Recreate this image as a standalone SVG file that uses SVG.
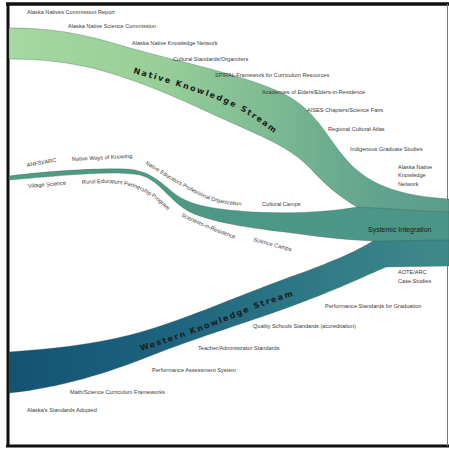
<svg xmlns="http://www.w3.org/2000/svg" width="449" height="449" viewBox="0 0 449 449">
<style>
.lb{font-family:"Liberation Sans",Arial,sans-serif;font-size:5.6px;fill:#3a3a3a}
.ne{font-size:5.5px}
.tt{font-family:"DejaVu Sans",Verdana,sans-serif;font-weight:bold;font-size:8px;fill:#1c1c1c}
.edge{stroke:#3c5a52;stroke-width:0.6;stroke-opacity:0.55}
</style>
<defs>
<linearGradient id="gNat" gradientUnits="userSpaceOnUse" x1="9" y1="0" x2="449" y2="0">
<stop offset="0" stop-color="#a6d8a0"/>
<stop offset="0.35" stop-color="#97ce98"/>
<stop offset="0.6" stop-color="#7cba92"/>
<stop offset="0.82" stop-color="#62a48e"/>
<stop offset="1" stop-color="#5a9d8c"/>
</linearGradient>
<linearGradient id="gMid" gradientUnits="userSpaceOnUse" x1="9" y1="0" x2="449" y2="0">
<stop offset="0" stop-color="#4e9c82"/>
<stop offset="1" stop-color="#4b9588"/>
</linearGradient>
<linearGradient id="gWes" gradientUnits="userSpaceOnUse" x1="9" y1="0" x2="449" y2="0">
<stop offset="0" stop-color="#145274"/>
<stop offset="0.35" stop-color="#1d627e"/>
<stop offset="0.7" stop-color="#2f7a86"/>
<stop offset="1" stop-color="#3e8a8a"/>
</linearGradient>
<path id="pNat" d="M133,73 C175,85 220,98 245,113 C258,121 268,128 284,141"/>
<path id="pWes" d="M141,351 C180,339 220,324 255,309 C270,303 285,298 300,294"/>
<path id="pRural" d="M82,184 C110,182 125,183 140,190 C155,197 166,207 176,222"/>
<path id="pNEPO" d="M145,164 C165,176 185,189 205,198 C220,204 235,206 262,206"/>
<path id="pSci" d="M181,216 C200,226 220,234 244,242"/>
<path id="pCamp" d="M253,241 L297,253"/>
</defs>
<rect x="0" y="0" width="449" height="449" fill="#ffffff"/>
<g id="frame" fill="none">
<line x1="6" y1="4" x2="449" y2="4" stroke="#111" stroke-width="3.5"/>
<line x1="8" y1="3" x2="8" y2="447" stroke="#111" stroke-width="3"/>
<line x1="6" y1="446" x2="449" y2="446" stroke="#111" stroke-width="3"/>
<line x1="447.5" y1="4" x2="447.5" y2="446" stroke="#777" stroke-width="1"/>
</g>
<g id="connectors">
<g id="native-stream">
<path class="edge" fill="url(#gNat)" d="M9,28 C60,28 90,36 130,48 C180,62 240,74 280,92 C310,106 320,125 340,152 C360,178 385,195 449,199 L449,215 C420,213 380,210 357,207 C340,197 325,185 310,168 C290,148 270,140 230,122 C190,104 150,84 100,70 C70,62 40,59 9,59 Z"/>
</g>
<g id="western-stream">
<path class="edge" fill="url(#gWes)" d="M9,352 C50,349 90,345 130,335 C180,322 230,299 290,277 C330,263 355,252 373,241 C390,240 420,238 449,238 L449,266 L386,267 C365,276 340,288 300,303 C255,320 195,338 150,356 C110,372 60,388 9,393 Z"/>
</g>
<g id="middle-stream">
<path class="edge" fill="url(#gMid)" d="M9,176 C40,172 90,168 125,169 C150,170 160,182 175,194 C190,205 210,209 253,212 C290,214 330,212 357,207 C380,208 420,211 449,212 L449,240 C420,240 390,241 373,241 C350,240 330,238 300,234 C260,229 215,224 190,212 C170,202 160,180 140,175 C110,170 60,176 9,180 Z"/>
</g>
</g>
<g id="titles">
<g id="native-title">
<text class="tt" letter-spacing="1.7"><textPath href="#pNat">Native</textPath></text>
<text class="tt" letter-spacing="1.7"><textPath href="#pNat" startOffset="43.6">Knowledge</textPath></text>
<text class="tt" letter-spacing="1.7"><textPath href="#pNat" startOffset="113.2">Stream</textPath></text>
</g>
<g id="western-title">
<text class="tt" letter-spacing="1.6"><textPath href="#pWes">Western</textPath></text>
<text class="tt" letter-spacing="1.6"><textPath href="#pWes" startOffset="52.5">Knowledge</textPath></text>
<text class="tt" letter-spacing="1.6"><textPath href="#pWes" startOffset="121.2">Stream</textPath></text>
</g>
<g id="systemic"><text x="368" y="232" font-family="Liberation Sans,Arial,sans-serif" font-size="7" fill="#1a1a1a">Systemic Integration</text></g>
</g>
<g id="native-labels">
<g id="n1"><text class="lb" x="27" y="14">Alaska Natives Commission Report</text></g>
<g id="n2"><text class="lb" x="68" y="28">Alaska Native Science Commission</text></g>
<g id="n3"><text class="lb" x="132" y="45">Alaska Native Knowledge Network</text></g>
<g id="n4"><text class="lb" x="173" y="61">Cultural Standards/Organizers</text></g>
<g id="n5"><text class="lb" x="215" y="77">SPIRAL Framework for Curriculum Resources</text></g>
<g id="n6"><text class="lb" x="262" y="94">Academies of Elders/Elders-in-Residence</text></g>
<g id="n7"><text class="lb" x="307" y="112">AISES Chapters/Science Fairs</text></g>
<g id="n8"><text class="lb" x="328" y="131">Regional Cultural Atlas</text></g>
<g id="n9"><text class="lb" x="350" y="151">Indigenous Graduate Studies</text></g>
<g id="n10"><text class="lb" x="398" y="169">Alaska Native</text><text class="lb" x="398" y="177">Knowledge</text><text class="lb" x="398" y="186">Network</text></g>
</g>
<g id="middle-labels">
<g id="m1"><text class="lb" x="27" y="167" transform="rotate(-10 27 167)">ANFSI/ARC</text></g>
<g id="m2"><text class="lb" x="72" y="161" transform="rotate(-3 72 161)">Native Ways of Knowing</text></g>
<g id="m3"><text class="lb" x="28" y="188" transform="rotate(-5 28 188)">Village Science</text></g>
<g id="m4">
<text class="lb"><textPath href="#pRural">Rural</textPath></text>
<text class="lb"><textPath href="#pRural" startOffset="14.94">Educators</textPath></text>
<text class="lb"><textPath href="#pRural" startOffset="41.71">Partnership</textPath></text>
<text class="lb"><textPath href="#pRural" startOffset="71.9">Program</textPath></text>
</g>
<g id="m5">
<text class="lb ne"><textPath href="#pNEPO">Native</textPath></text>
<text class="lb ne"><textPath href="#pNEPO" startOffset="17.12">Educators</textPath></text>
<text class="lb ne"><textPath href="#pNEPO" startOffset="43.41">Professional</textPath></text>
<text class="lb ne"><textPath href="#pNEPO" startOffset="75.2">Organization</textPath></text>
</g>
<g id="m6"><text class="lb"><textPath href="#pSci">Scientists-in-Residence</textPath></text></g>
<g id="m7"><text class="lb"><textPath href="#pCamp">Science Camps</textPath></text></g>
<g id="m8"><text class="lb" x="262" y="206">Cultural Camps</text></g>
</g>
<g id="western-labels">
<g id="w1"><text class="lb" x="398" y="274">AOTE/ARC</text><text class="lb" x="398" y="283">Case Studies</text></g>
<g id="w2"><text class="lb" x="325" y="308">Performance Standards for Graduation</text></g>
<g id="w3"><text class="lb" x="253" y="328">Quality Schools Standards (accreditation)</text></g>
<g id="w4"><text class="lb" x="198" y="350">Teacher/Administrator Standards</text></g>
<g id="w5"><text class="lb" x="152" y="372">Performance Assessment System</text></g>
<g id="w6"><text class="lb" x="70" y="394">Math/Science Curriculum Frameworks</text></g>
<g id="w7"><text class="lb" x="27" y="412">Alaska's Standards Adopted</text></g>
</g>
</svg>
